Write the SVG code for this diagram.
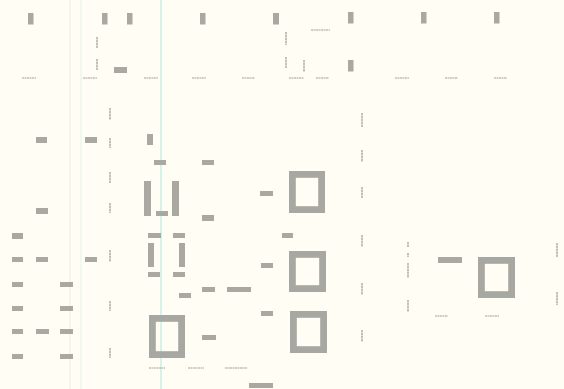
<svg xmlns="http://www.w3.org/2000/svg" width="564" height="389" viewBox="0 0 564 389">
<style>
.b{fill:#a9a9a2}
.f{fill:none;stroke:#a8a8a2;stroke-width:6.8}
.h{stroke:#a2a29c;stroke-width:1.2;stroke-dasharray:2 0.5}
.v{stroke:#a2a29c;stroke-width:1.3;stroke-dasharray:2.5 0.5}
</style>
<rect width="564" height="389" fill="#fffdf4"/>
<g id="guides">
<line x1="70" y1="0" x2="70" y2="389" stroke="#f4f2e6" stroke-width="1.5"/>
<line x1="81" y1="0" x2="81" y2="389" stroke="#ebf6ef" stroke-width="1.5"/>
<line x1="161" y1="0" x2="161" y2="389" stroke="#c4efe9" stroke-width="1.5"/>
</g>
<g id="top-blocks">
<rect class="b" x="28" y="13" width="5.5" height="11.5"/>
<rect class="b" x="102" y="13" width="5.5" height="11.5"/>
<rect class="b" x="127" y="13" width="5.5" height="11.5"/>
<rect class="b" x="200" y="13" width="5.5" height="11.5"/>
<rect class="b" x="273" y="13" width="6" height="11.5"/>
<rect class="b" x="348" y="12" width="5.5" height="11.5"/>
<rect class="b" x="421" y="12" width="5.5" height="11.5"/>
<rect class="b" x="494" y="12" width="5.5" height="11.5"/>
<rect class="b" x="114" y="67" width="13" height="6"/>
<rect class="b" x="348" y="60" width="5.5" height="11.5"/>
</g>
<g id="dashes">
<line class="v" x1="97" y1="37" x2="97" y2="48"/>
<line class="v" x1="97" y1="59" x2="97" y2="70"/>
<line class="v" x1="286" y1="32" x2="286" y2="45"/>
<line class="v" x1="286" y1="57" x2="286" y2="68"/>
<line class="v" x1="304" y1="60" x2="304" y2="72"/>
<line class="h" x1="311" y1="30" x2="330" y2="30"/>
<line class="h" x1="22" y1="78" x2="36" y2="78"/>
<line class="h" x1="83" y1="78" x2="97" y2="78"/>
<line class="h" x1="144" y1="78" x2="158" y2="78"/>
<line class="h" x1="192" y1="78" x2="206" y2="78"/>
<line class="h" x1="242" y1="78" x2="255" y2="78"/>
<line class="h" x1="289" y1="78" x2="304" y2="78"/>
<line class="h" x1="316" y1="78" x2="329" y2="78"/>
<line class="h" x1="395" y1="78" x2="409" y2="78"/>
<line class="h" x1="445" y1="78" x2="458" y2="78"/>
<line class="h" x1="494" y1="78" x2="507" y2="78"/>
<line class="v" x1="110" y1="108" x2="110" y2="120"/>
<line class="v" x1="110" y1="138" x2="110" y2="148"/>
<line class="v" x1="110" y1="172" x2="110" y2="183"/>
<line class="v" x1="110" y1="203" x2="110" y2="213"/>
<line class="v" x1="110" y1="250" x2="110" y2="262"/>
<line class="v" x1="110" y1="301" x2="110" y2="311"/>
<line class="v" x1="110" y1="348" x2="110" y2="358"/>
<line class="h" x1="149" y1="368" x2="165" y2="368"/>
<line class="h" x1="188" y1="368" x2="204" y2="368"/>
<line class="h" x1="225" y1="368" x2="247" y2="368"/>
<line class="v" x1="362" y1="113" x2="362" y2="127"/>
<line class="v" x1="362" y1="150" x2="362" y2="162"/>
<line class="v" x1="362" y1="187" x2="362" y2="198"/>
<line class="v" x1="362" y1="235" x2="362" y2="247"/>
<line class="v" x1="362" y1="283" x2="362" y2="295"/>
<line class="v" x1="362" y1="330" x2="362" y2="342"/>
<line class="v" x1="408" y1="242" x2="408" y2="247"/>
<line class="v" x1="408" y1="253" x2="408" y2="257"/>
<line class="v" x1="408" y1="263" x2="408" y2="278"/>
<line class="v" x1="408" y1="300" x2="408" y2="312"/>
<line class="h" x1="435" y1="316" x2="448" y2="316"/>
<line class="h" x1="485" y1="316" x2="499" y2="316"/>
<line class="v" x1="557" y1="243" x2="557" y2="257"/>
<line class="v" x1="557" y1="292" x2="557" y2="305"/>
</g>
<g id="left-blocks">
<rect class="b" x="36" y="137" width="11" height="6"/>
<rect class="b" x="85" y="137" width="12" height="6"/>
<rect class="b" x="36" y="208" width="12" height="6"/>
<rect class="b" x="12" y="233" width="11" height="6"/>
<rect class="b" x="12" y="257" width="11" height="5"/>
<rect class="b" x="36" y="257" width="12" height="5"/>
<rect class="b" x="85" y="257" width="12" height="5"/>
<rect class="b" x="12" y="282" width="11" height="5"/>
<rect class="b" x="60" y="282" width="13" height="5"/>
<rect class="b" x="12" y="306" width="11" height="5"/>
<rect class="b" x="60" y="306" width="13" height="5"/>
<rect class="b" x="12" y="329" width="11" height="5"/>
<rect class="b" x="36" y="329" width="13" height="5"/>
<rect class="b" x="60" y="329" width="13" height="5"/>
<rect class="b" x="12" y="354" width="11" height="5"/>
<rect class="b" x="60" y="354" width="13" height="5"/>
</g>
<g id="middle-blocks">
<rect class="b" x="147" y="134" width="6" height="11"/>
<rect class="b" x="154" y="160" width="12" height="5"/>
<rect class="b" x="202" y="160" width="12" height="5"/>
<rect class="b" x="144" y="181" width="7" height="35"/>
<rect class="b" x="172" y="181" width="7" height="35"/>
<rect class="b" x="156" y="211" width="12" height="5"/>
<rect class="b" x="202" y="215" width="12" height="6"/>
<rect class="b" x="260" y="191" width="13" height="5"/>
<rect class="b" x="148" y="233" width="13" height="5"/>
<rect class="b" x="173" y="233" width="12" height="5"/>
<rect class="b" x="282" y="233" width="11" height="5"/>
<rect class="b" x="148" y="243" width="6" height="24"/>
<rect class="b" x="179" y="243" width="6" height="24"/>
<rect class="b" x="261" y="263" width="12" height="5"/>
<rect class="b" x="148" y="272" width="12" height="5"/>
<rect class="b" x="173" y="272" width="12" height="5"/>
<rect class="b" x="202" y="287" width="13" height="5"/>
<rect class="b" x="227" y="287" width="24" height="5"/>
<rect class="b" x="179" y="293" width="12" height="5"/>
<rect class="b" x="261" y="311" width="12" height="5"/>
<rect class="b" x="202" y="335" width="14" height="5"/>
<rect class="b" x="249" y="383" width="24" height="5"/>
<rect class="b" x="438" y="257" width="24" height="6"/>
</g>
<g id="frames">
<rect class="f" x="292.4" y="174.4" width="29.2" height="35.2"/>
<rect class="f" x="292.4" y="254.4" width="30.2" height="34.2"/>
<rect class="f" x="293.4" y="314.4" width="30.2" height="35.2"/>
<rect class="f" x="152.4" y="318.4" width="29.2" height="36.2"/>
<rect class="f" x="481.4" y="260.4" width="30.2" height="34.2"/>
</g>
</svg>
